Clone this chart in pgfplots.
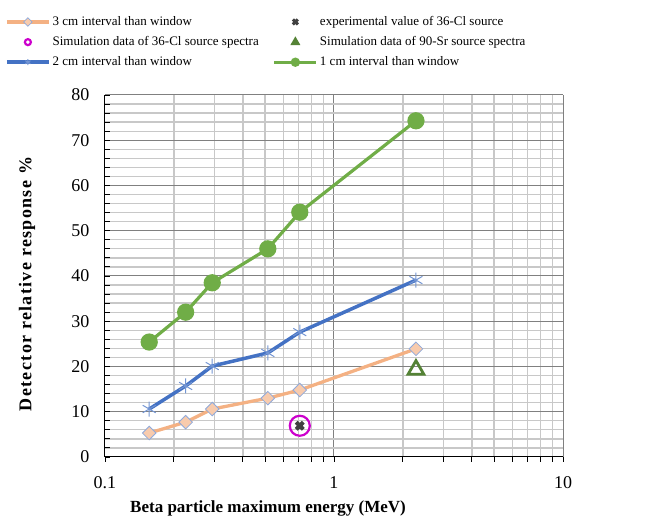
\documentclass[border=0pt]{standalone}
\usepackage{pgfplots}
\pgfplotsset{compat=1.18}
\usepackage{fontspec}
\setmainfont{Liberation Serif}
\definecolor{cOr}{HTML}{F4B183}
\definecolor{cOrF}{HTML}{F8CBAD}
\definecolor{cOrE}{HTML}{8FAADC}
\definecolor{cBl}{HTML}{4472C4}
\definecolor{cGr}{HTML}{70AD47}
\definecolor{cDG}{HTML}{548235}
\definecolor{cMg}{HTML}{CC00CC}
\definecolor{cEx}{HTML}{404040}
\definecolor{gMaj}{HTML}{808080}
\definecolor{gMin}{HTML}{C8C8C8}
\pgfplotsset{expleg/.style={legend image code/.code={\draw[##1,mark size=3.5pt,line width=3pt] plot coordinates {(21pt,0pt)};}}}
\begin{document}
\begin{tikzpicture}
\begin{axis}[
  at={(105pt,61pt)}, anchor=south west,
  scale only axis, width=458pt, height=362pt,
  xmode=log, xmin=0.1, xmax=10, ymin=0, ymax=80,
  xtick={0.1,1,10}, xticklabels={0.1,1,10},
  minor xtick={0.2,0.3,0.4,0.5,0.6,0.7,0.8,0.9,2,3,4,5,6,7,8,9},
  ytick={0,10,...,80}, minor y tick num=4,
  grid=both,
  major grid style={gMaj, line width=1pt},
  minor grid style={gMin, line width=1.3pt},
  axis x line=bottom, axis y line=left,
  axis line style={-, black, line width=1pt},
  xtick align=outside, ytick align=inside,
  major tick length=5pt, minor tick length=5pt,
  tick style={black, line width=0.9pt},
  tick label style={font=\fontsize{18}{20}\selectfont},
  xticklabel style={yshift=-11pt},
  yticklabel style={xshift=-12pt},
  /pgf/number format/assume math mode=true,
  xlabel={Beta particle maximum energy (MeV)},
  ylabel={\addfontfeature{LetterSpace=7.5}Detector relative response \%},
  label style={font=\bfseries\fontsize{17}{20}\selectfont},
  xlabel style={at={(axis description cs:0.356,-0.152)}, anchor=base},
  ylabel style={font=\bfseries\fontsize{18}{20}\selectfont, at={(axis description cs:-0.17,0.478)}, anchor=center},
  legend columns=2,
  legend style={at={(axis description cs:-0.225,1.228)}, anchor=north west,
    draw=none, fill=none, font=\fontsize{13}{15}\selectfont,
    /tikz/every even column/.append style={column sep=12pt},
    row sep=5.5pt, cells={anchor=west}},
  legend image code/.code={\draw[mark repeat=2,mark phase=2,#1,mark size=3pt] plot coordinates {(0pt,0pt) (21pt,0pt) (42pt,0pt)};},
]
\addplot[cOr, line width=3.3pt, mark=square*, mark size=4.8pt,
  mark options={rotate=45, fill=cOrF, draw=cOrE, line width=0.8pt}]
  coordinates {(0.156,5.3)(0.225,7.7)(0.294,10.6)(0.514,13.0)(0.709,14.8)(2.28,23.9)};
\addlegendentry{3 cm interval than window}
\addplot[only marks, mark=x, mark size=5pt, cEx, line width=4pt, expleg]
  coordinates {(0.709,6.9)};
\addlegendentry{experimental value of 36-Cl source}
\addplot[only marks, mark=o, mark size=10pt, cMg, line width=2.2pt]
  coordinates {(0.709,6.9)};
\addlegendentry{Simulation data of 36-Cl source spectra}
\addplot[only marks, mark=triangle, mark size=9pt, cDG, line width=2.8pt]
  coordinates {(2.28,19.3)};
\addlegendentry{Simulation data of 90-Sr source spectra}
\addplot[cBl, line width=3.5pt, mark=asterisk, mark size=7.5pt,
  mark options={line width=1pt, draw=cBl!75}]
  coordinates {(0.156,10.6)(0.225,15.7)(0.294,20.1)(0.514,23.0)(0.709,27.6)(2.28,39.1)};
\addlegendentry{2 cm interval than window}
\addplot[cGr, line width=3.2pt, mark=*, mark size=7pt]
  coordinates {(0.156,25.4)(0.225,32.0)(0.294,38.5)(0.514,46.0)(0.709,54.1)(2.28,74.3)};
\addlegendentry{1 cm interval than window}
\end{axis}
\pgfresetboundingbox
\path[use as bounding box] (0,0) rectangle (651pt,518pt);
\end{tikzpicture}
\end{document}
